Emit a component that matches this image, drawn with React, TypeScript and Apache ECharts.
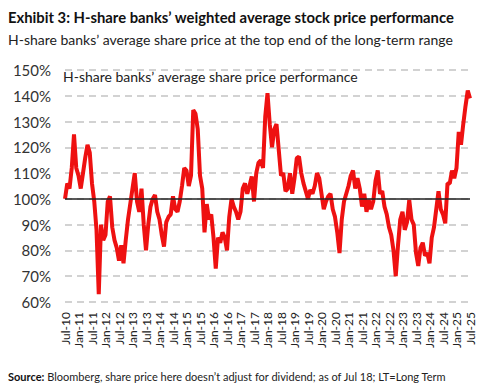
import React, { useEffect, useRef } from "react";
import * as echarts from "echarts";

const monthNames = ["Jan", "Feb", "Mar", "Apr", "May", "Jun", "Jul", "Aug", "Sep", "Oct", "Nov", "Dec"];

// Monthly categories from Jul-10 to Jul-25
const categories: string[] = [];
for (let i = 0; i <= 180; i++) {
  const mm = (6 + i) % 12;
  const yy = 10 + Math.floor((6 + i) / 12);
  categories.push(`${monthNames[mm]}-${yy}`);
}

// Average share price performance (%)
const performance: number[] = [
  100, 106, 104, 112, 125, 112, 109, 104, 110, 116, 121, 118,
  106, 99, 88, 63, 90, 84, 86, 99, 101, 89, 84, 81,
  76, 82, 75, 84, 92, 98, 104, 110, 99, 95, 104, 90,
  80, 90, 97, 100, 101.5, 95, 92, 86, 81.5, 91, 93, 94,
  101, 96, 95, 99, 105, 112, 111, 105, 109, 134.5, 133, 127,
  109, 104, 87, 98, 92, 94, 85, 73, 85, 83, 87, 85,
  80, 93, 100, 97, 95, 92, 95, 104, 106, 102, 105, 108.7,
  99, 110, 114, 115, 112, 132, 141, 129, 120, 127, 129, 119,
  109, 110, 103, 104, 110, 102, 108, 115.8, 116.4, 110, 106, 103,
  100, 103.5, 102, 105, 110, 108, 102, 96, 99, 101, 102, 96,
  93, 87, 79, 92, 99, 102, 105, 109, 111, 104, 108, 104,
  97, 102, 95, 99.6, 96, 99, 107, 111, 102, 103, 97, 94,
  89, 86, 80, 70, 82, 92, 95, 88, 91, 99.6, 92, 90,
  79, 74, 81, 83, 78, 79, 75, 85, 89, 96, 103, 96,
  94, 90.5, 106, 106, 111, 108, 112, 126, 121, 129, 136, 142,
  139,
];

const yMin = 60;
const yMax = 150;
const yInterval = 10;
const referenceLevel = 100;

const titleText = "Exhibit 3: H-share banks\u2019 weighted average stock price performance";
const subtitleText = "H-share banks\u2019 average share price at the top end of the long-term range";
const innerTitle = "H-share banks\u2019 average share price performance";
const sourceText = "Bloomberg, share price here doesn\u2019t adjust for dividend; as of Jul 18; LT=Long Term";

const FONT = "Lato";

export default function App() {
  const ref = useRef<HTMLDivElement>(null);
  useEffect(() => {
    if (!ref.current) return;
    const chart = echarts.init(ref.current, null, { renderer: "svg" });
    chart.setOption({
      animation: false,
      backgroundColor: "#ffffff",
      grid: { left: 65, right: 31, top: 70, bottom: 88 },
      graphic: [
        {
          type: "text",
          left: 8,
          top: 9,
          style: { text: titleText, font: `bold 14.8px ${FONT}`, fill: "#111" },
        },
        {
          type: "text",
          left: 8,
          top: 32,
          style: { text: subtitleText, font: `14px ${FONT}`, fill: "#222" },
        },
        {
          type: "text",
          left: 63,
          top: 69,
          style: { text: innerTitle, font: `14px ${FONT}`, fill: "#222" },
        },
        {
          type: "text",
          left: 8,
          top: 371,
          style: {
            text: "{b|Source:} " + sourceText,
            font: `11px ${FONT}`,
            fill: "#222",
            rich: {
              b: { font: `bold 11px ${FONT}`, fill: "#111" },
            },
          },
        },
      ],
      xAxis: {
        type: "category",
        data: categories,
        boundaryGap: false,
        axisLine: { show: false },
        axisTick: { show: false },
        splitLine: { show: false },
        axisLabel: {
          interval: 5,
          rotate: 90,
          margin: 10,
          fontFamily: FONT,
          fontSize: 12,
          color: "#222",
        },
      },
      yAxis: {
        type: "value",
        min: yMin,
        max: yMax,
        interval: yInterval,
        axisLine: { show: false },
        axisTick: { show: false },
        axisLabel: {
          formatter: "{value}%",
          fontFamily: FONT,
          fontSize: 15,
          color: "#333",
          margin: 14,
        },
        splitLine: {
          show: true,
          lineStyle: { color: "#c4c4c4", type: [7, 5], width: 1.5 },
        },
      },
      series: [
        {
          type: "line",
          data: performance,
          symbol: "none",
          lineStyle: { color: "#ee1111", width: 4 },
          markLine: {
            silent: true,
            symbol: "none",
            label: { show: false },
            lineStyle: { color: "#222", type: "solid", width: 1.5 },
            data: [{ yAxis: referenceLevel }],
          },
          z: 3,
        },
      ],
    });
    return () => chart.dispose();
  }, []);
  return (
    <div
      ref={ref}
      style={{ position: "fixed", left: 0, top: 0, width: 501, height: 390 }}
    />
  );
}
